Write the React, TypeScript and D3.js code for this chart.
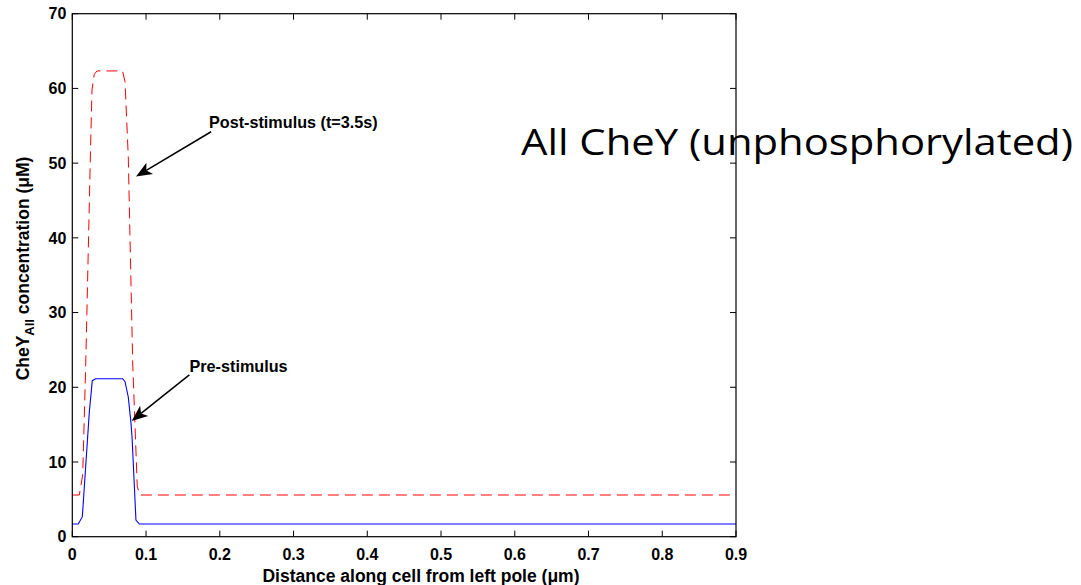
import React from 'react';
import * as d3 from 'd3';

// axis ticks
const xTicks = [0, 0.1, 0.2, 0.3, 0.4, 0.5, 0.6, 0.7, 0.8, 0.9];
const yTicks = [0, 10, 20, 30, 40, 50, 60, 70];

// pre-stimulus (blue, solid)
const preX = [0, 0.0081, 0.0136, 0.0231, 0.0271, 0.0317, 0.0683, 0.0715, 0.0759, 0.0796, 0.081, 0.0863, 0.0909, 0.9];
const preY = [1.7, 1.7, 2.68, 16.73, 20.88, 21.15, 21.15, 20.75, 18.7, 15.2, 13.35, 2.23, 1.7, 1.7];

// post-stimulus t=3.5s (red, dashed)
const postX = [0, 0.0095, 0.0141, 0.0182, 0.025, 0.0267, 0.0298, 0.0335, 0.0681, 0.0715, 0.0759, 0.0819, 0.0881, 0.0918, 0.9];
const postY = [5.58, 5.58, 8.26, 22.99, 53.1, 59.78, 61.89, 62.34, 62.34, 60.9, 50.86, 23.25, 6.69, 5.58, 5.58];

// arrow annotations, in data units: [tailX, tailY, tipX, tipY]
const postArrow = [0.1882, 54.2, 0.0864, 48.2];
const preArrow = [0.1587, 21.65, 0.0805, 15.5];

const W = 1081;
const H = 585;
const font = 'Liberation Sans, Arial, Helvetica, sans-serif';

function Arrow({ x0, y0, x1, y1 }: { x0: number; y0: number; x1: number; y1: number }) {
  const a = Math.atan2(y1 - y0, x1 - x0);
  const len = 16;
  const hw = 6.5;
  const notch = 4;
  const ux = Math.cos(a), uy = Math.sin(a);
  const px = -uy, py = ux;
  const bx = x1 - ux * len, by = y1 - uy * len;
  const nx = x1 - ux * (len - notch), ny = y1 - uy * (len - notch);
  const head = `M${x1},${y1}L${bx + px * hw},${by + py * hw}L${nx},${ny}L${bx - px * hw},${by - py * hw}Z`;
  return (
    <g>
      <line x1={x0} y1={y0} x2={nx} y2={ny} stroke="#000" strokeWidth={1.5} />
      <path d={head} fill="#000" />
    </g>
  );
}

export default function App() {
  const x = d3.scaleLinear().domain([0, 0.9]).range([72.3, 736]);
  const y = d3.scaleLinear().domain([0, 70]).range([536.7, 13.7]);
  const [x0, x1] = x.range();
  const [y0, y1] = y.range();

  const line = d3.line<[number, number]>().x(d => x(d[0])).y(d => y(d[1]));
  const pre = line(preX.map((v, i) => [v, preY[i]]) as [number, number][]);
  const post = line(postX.map((v, i) => [v, postY[i]]) as [number, number][]);

  const tick = 6;

  return (
    <div style={{ position: 'absolute', left: 0, top: 0 }}>
      <svg width={W} height={H} style={{ display: 'block', background: '#fff' }}>
        <rect width={W} height={H} fill="#fff" />

        <path d={post ?? ''} fill="none" stroke="#ff0000" strokeWidth={1} strokeDasharray="11,6" />
        <path d={pre ?? ''} fill="none" stroke="#0000ff" strokeWidth={1.1} />

        {/* annotations */}
        <g fontFamily={font} fontWeight="bold" fontSize={16.2} fill="#000">
          <text x={209} y={127.5}>Post-stimulus (t=3.5s)</text>
          <text x={189.5} y={371.5}>Pre-stimulus</text>
        </g>
        <Arrow x0={x(postArrow[0])} y0={y(postArrow[1])} x1={x(postArrow[2])} y1={y(postArrow[3])} />
        <Arrow x0={x(preArrow[0])} y0={y(preArrow[1])} x1={x(preArrow[2])} y1={y(preArrow[3])} />

        <text x={521} y={155} fontFamily="Open Sans, Noto Sans, sans-serif" fontSize={37}
          textLength={552} lengthAdjust="spacingAndGlyphs" fill="#000">
          All CheY (unphosphorylated)
        </text>

        {/* axes box */}
        <rect x={x0} y={y1} width={x1 - x0} height={y0 - y1} fill="none" stroke="#000" strokeWidth={1.2} />
        {xTicks.map(t => (
          <g key={'x' + t}>
            <line x1={x(t)} x2={x(t)} y1={y0} y2={y0 - tick} stroke="#000" />
            <line x1={x(t)} x2={x(t)} y1={y1} y2={y1 + tick} stroke="#000" />
            <text x={x(t)} y={y0 + 23} textAnchor="middle" fontFamily={font} fontWeight="bold" fontSize={16}>
              {t === 0 ? '0' : d3.format('.1f')(t)}
            </text>
          </g>
        ))}
        {yTicks.map(t => (
          <g key={'y' + t}>
            <line x1={x0} x2={x0 + tick} y1={y(t)} y2={y(t)} stroke="#000" />
            <line x1={x1} x2={x1 - tick} y1={y(t)} y2={y(t)} stroke="#000" />
            <text x={x0 - 6} y={y(t)} dy="0.36em" textAnchor="end" fontFamily={font} fontWeight="bold" fontSize={16}>
              {t}
            </text>
          </g>
        ))}

        <text x={421} y={581.5} textAnchor="middle" fontFamily={font} fontWeight="bold" fontSize={17.5}>
          Distance along cell from left pole (μm)
        </text>
        <text transform="translate(29,268.5) rotate(-90)" textAnchor="middle" fontFamily={font} fontWeight="bold" fontSize={17.5}>
          CheY<tspan fontSize={13} dy={5}>All</tspan>
          <tspan dy={-5}> concentration (μM)</tspan>
        </text>
      </svg>
    </div>
  );
}
